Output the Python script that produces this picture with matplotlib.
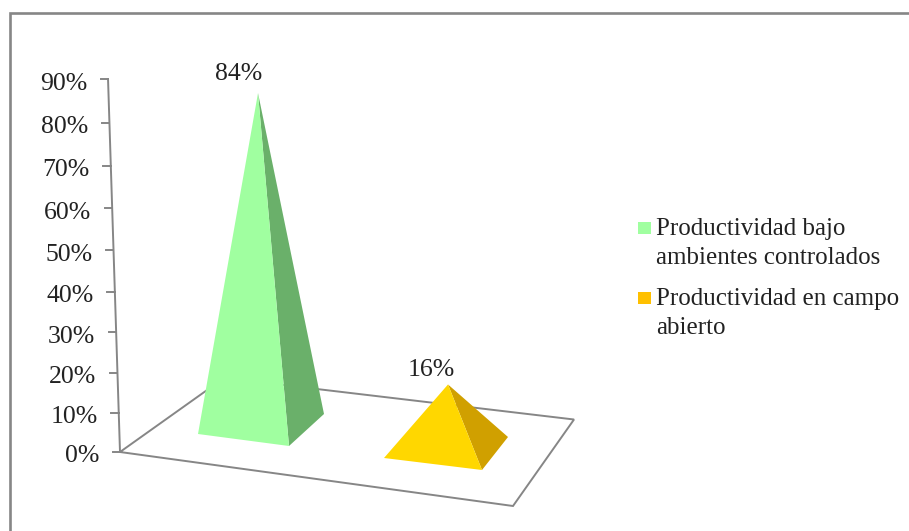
import matplotlib.pyplot as plt
from matplotlib.patches import Polygon, Rectangle

plt.rcParams['font.family'] = ['Liberation Serif', 'DejaVu Serif']

# Chart values
categories = ["Productividad bajo\nambientes controlados", "Productividad en campo\nabierto"]
values = [84, 16]
value_labels = ["84%", "16%"]
ticks = [0, 10, 20, 30, 40, 50, 60, 70, 80, 90]
tick_labels = ["0%", "10%", "20%", "30%", "40%", "50%", "60%", "70%", "80%", "90%"]

# Colors
gray = '#868686'
text_color = '#222222'
light_colors = ['#A0FFA0', '#FFD700']
dark_colors = ['#6AB06A', '#D0A000']
legend_colors = ['#A0FFA0', '#FFC000']

# The drawing works in pixels, y pointing down
fig = plt.figure(figsize=(9.09, 5.31), dpi=100)
ax = fig.add_axes([0, 0, 1, 1])
ax.set_xlim(0, 909)
ax.set_ylim(531, 0)
ax.axis('off')


# Position on the slanted value axis (slight perspective towards the top)
def axis_x(v):
    return 120 - v * 0.133


def axis_y(v):
    return 452 - v * (3.907 + 0.00263 * v)


# Outer frame, open on the right and bottom edges
ax.plot([9.5, 9.5, 909], [531, 12.5, 12.5], color=gray, lw=1.9, solid_joinstyle='miter')

# Floor of the chart
floor = [(120, 452), (513, 506), (574, 419.5), (224, 378)]
ax.add_patch(Polygon(floor, closed=True, fill=False, edgecolor=gray, lw=1.4, zorder=1))

# Value axis and its ticks
ax.plot([axis_x(0), axis_x(90)], [axis_y(0), axis_y(90)], color=gray, lw=1.4, zorder=1)
for t, lab in zip(ticks, tick_labels):
    ax.plot([axis_x(t) - 7.5, axis_x(t)], [axis_y(t), axis_y(t)], color=gray, lw=1.4, zorder=1)
    ax.text(axis_x(t) - 21, axis_y(t) + 4.5, lab, ha='right', va='center',
            fontsize=18.5, color=text_color)

# Pyramids: base corners are front-left, front-right, back-right
bases = [[(198, 434), (289, 446), (324, 414)],
         [(384, 458), (482, 470), (508, 437)]]
centers = [(261, 424), (446, 447.5)]
apex_shift = [-3, 2]
label_pos = [(239, 74), (431, 370)]
for i, v in enumerate(values):
    fl, fr, br = bases[i]
    apex = (centers[i][0] + apex_shift[i], centers[i][1] - v * 3.94)
    ax.add_patch(Polygon([fr, br, apex], closed=True, facecolor=dark_colors[i], edgecolor='none', zorder=2))
    ax.add_patch(Polygon([fl, fr, apex], closed=True, facecolor=light_colors[i], edgecolor='none', zorder=3))
    ax.text(label_pos[i][0], label_pos[i][1], value_labels[i], ha='center', va='center',
            fontsize=18.5, color=text_color, zorder=4)

# Legend
legend_y = [228, 298]
for y, name, c in zip(legend_y, categories, legend_colors):
    ax.add_patch(Rectangle((638, y - 6.5), 13, 12, facecolor=c, edgecolor='none'))
    ax.text(656, y - 10, name, ha='left', va='top', fontsize=18, color=text_color, linespacing=1.42)

fig.savefig('out.png', dpi=100)
